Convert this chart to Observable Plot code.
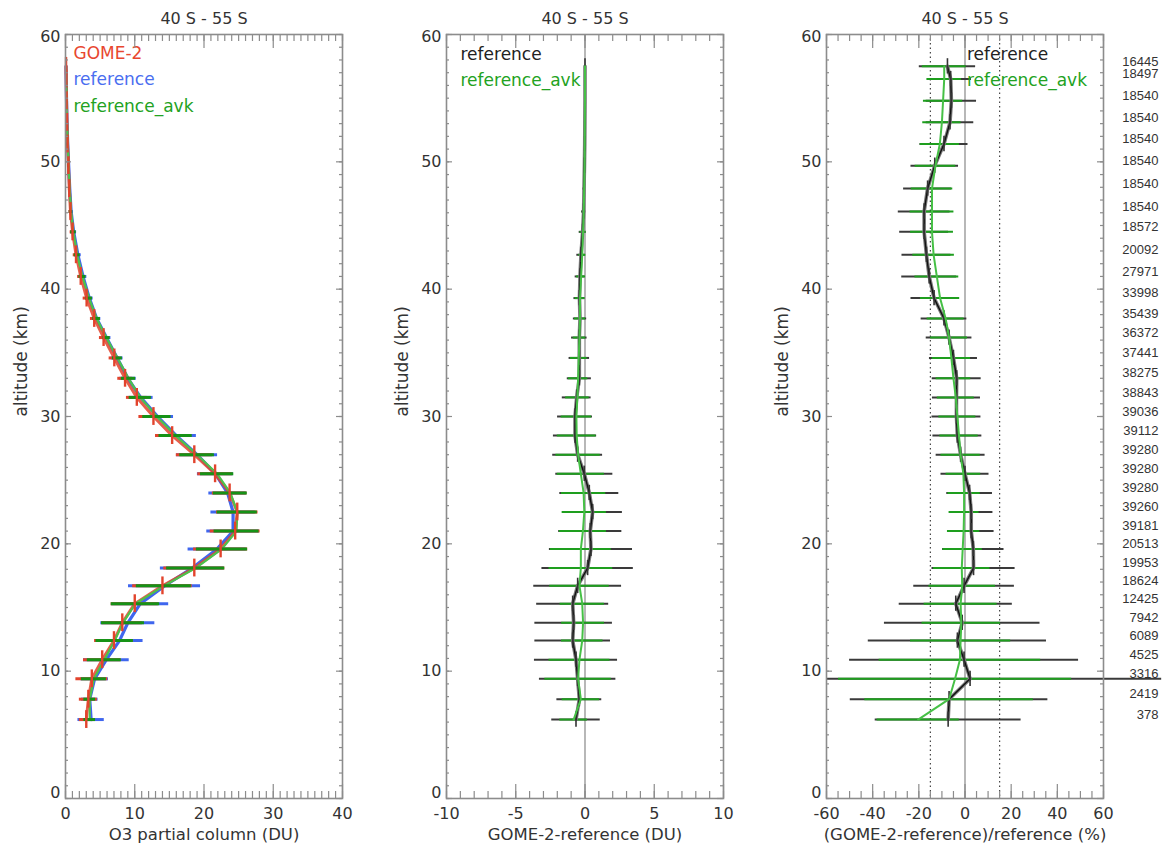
<!DOCTYPE html>
<html><head><meta charset="utf-8">
<script src="https://cdn.jsdelivr.net/npm/d3@7"></script>
<script src="https://cdn.jsdelivr.net/npm/@observablehq/plot@0.6"></script>
<style>
body{margin:0;background:#fff;}
#wrap{position:relative;width:1162px;height:847px;overflow:hidden;background:#fff;}
#wrap svg{position:absolute;top:0;overflow:visible;}
</style></head><body><div id="wrap"></div>
<script>
const panelTitle = "40 S - 55 S";
const altitudes = [57.5,56.5,54.8,53.1,51.4,49.7,47.9,46.1,44.5,42.7,41.0,39.3,37.7,36.2,34.6,33.0,31.5,30.0,28.5,27.0,25.5,24.0,22.5,21.0,19.6,18.1,16.7,15.3,13.8,12.4,10.9,9.4,7.8,6.2];
// panel 1: O3 partial column (DU)
const gome2 = [0.08,0.10,0.15,0.21,0.30,0.42,0.55,0.72,1.02,1.52,2.2,3.05,4.15,5.5,7.05,8.6,10.3,12.7,15.4,18.6,21.6,23.7,24.8,24.5,22.4,18.6,14.0,10.0,8.2,7.0,5.3,3.8,3.3,3.0];
const gome2Std = [0.03,0.04,0.05,0.06,0.08,0.10,0.13,0.22,0.35,0.40,0.45,0.50,0.55,0.60,0.75,1.05,1.5,2.1,2.4,2.6,2.5,2.5,3.0,3.6,3.9,4.4,4.3,3.4,2.9,2.8,2.7,2.3,1.3,1.0];
const reference = [0.08,0.10,0.15,0.22,0.32,0.46,0.61,0.81,1.18,1.79,2.53,3.44,4.50,5.91,7.46,9.01,10.85,13.3,16.0,19.0,21.65,23.4,24.2,24.2,21.9,18.3,14.3,10.8,9.0,7.8,5.9,4.2,3.5,3.7];
const referenceStd = [0.03,0.04,0.05,0.07,0.09,0.11,0.15,0.28,0.42,0.48,0.55,0.55,0.6,0.65,0.85,1.2,1.8,2.3,2.9,2.96,2.6,2.7,3.2,3.8,4.2,4.6,5.2,4.1,3.9,3.4,3.3,2.0,1.2,1.9];
const referenceAvk = [0.08,0.10,0.15,0.22,0.32,0.45,0.60,0.80,1.15,1.70,2.45,3.40,4.50,5.90,7.50,9.10,10.8,13.2,15.9,19.0,21.9,23.8,24.8,24.7,22.6,18.8,14.2,10.1,8.3,7.1,5.6,4.1,3.5,3.5];
const referenceAvkStd = [0.03,0.04,0.05,0.06,0.08,0.10,0.13,0.25,0.40,0.43,0.50,0.50,0.55,0.55,0.72,1.03,1.6,2.04,2.4,2.5,2.4,2.45,2.9,3.25,3.7,4.2,3.97,3.5,3.1,2.7,2.45,1.8,0.85,0.84];
// panel 2: GOME-2 - reference (DU)
const diffRef = [0.0,0.0,0.0,-0.01,-0.02,-0.04,-0.07,-0.1,-0.17,-0.29,-0.36,-0.4,-0.36,-0.41,-0.41,-0.41,-0.6,-0.72,-0.72,-0.53,-0.05,0.31,0.55,0.38,0.43,0.19,-0.53,-0.89,-0.82,-0.89,-0.65,-0.53,-0.41,-0.65];
const diffRefStd = [0.02,0.02,0.03,0.04,0.05,0.07,0.09,0.15,0.25,0.3,0.35,0.4,0.48,0.56,0.74,0.87,1.04,1.26,1.56,1.8,2.06,2.13,2.15,2.28,3.0,3.3,3.17,2.6,2.8,2.73,3.0,2.76,1.62,1.75];
const diffAvk = [0.0,0.0,0.0,-0.01,-0.02,-0.03,-0.06,-0.09,-0.14,-0.2,-0.28,-0.36,-0.36,-0.4,-0.45,-0.5,-0.55,-0.62,-0.6,-0.5,-0.3,-0.1,-0.05,-0.15,-0.3,-0.3,-0.4,-0.2,-0.14,-0.2,-0.4,-0.5,-0.3,-0.82];
const diffAvkStd = [0.02,0.02,0.03,0.03,0.04,0.05,0.06,0.12,0.22,0.26,0.32,0.35,0.4,0.45,0.6,0.7,0.85,1.1,1.4,1.6,1.7,1.6,1.6,1.7,2.2,2.3,2.15,1.6,1.55,1.5,2.2,2.4,1.35,1.0];
// panel 3: (GOME-2 - reference)/reference (%)
const pctRef = [-7.6,-6.2,-5.9,-6.5,-9.1,-13.1,-16.2,-17.7,-17.7,-16.7,-15.5,-13.4,-9.1,-6.9,-5.0,-3.6,-3.7,-3.7,-3.3,-1.9,0.0,2.0,2.7,2.7,3.6,3.7,-0.4,-4.0,-1.2,-3.3,-0.4,2.2,-6.9,-7.3];
const pctRefStd = [12.2,9.0,10.9,10.3,10.4,10.3,10.4,11.2,10.6,10.6,11.9,10.0,9.9,9.9,10.4,10.6,10.4,10.6,10.6,10.6,10.4,9.9,9.4,9.9,13.3,18.0,21.8,24.5,33.7,38.6,49.6,83.0,42.8,31.6];
const pctAvk = [-9.0,-9.0,-9.5,-10.0,-10.9,-12.8,-14.3,-14.3,-14.3,-13.6,-12.2,-10.8,-8.4,-6.9,-5.9,-5.0,-4.0,-3.3,-2.6,-1.9,-0.7,-0.4,-0.4,-0.6,-1.0,-1.4,-1.2,-1.9,-1.6,-1.9,-2.2,-4.3,-6.9,-20.3];
const pctAvkStd = [9.5,7.5,8.5,8.3,8.5,8.8,9.0,9.5,9.3,9.0,9.5,8.5,8.0,8.0,8.3,7.5,8.0,8.0,8.3,8.5,7.5,7.0,6.5,7.0,8.5,12.2,14.4,15.8,17.0,21.7,35.0,50.5,36.5,17.8];
const counts = [16445,18497,18540,18540,18540,18540,18540,18540,18572,20092,27971,33998,35439,36372,37441,38275,38843,39036,39112,39280,39280,39280,39260,39181,20513,19953,18624,12425,7942,6089,4525,3316,2419,378];

const yMajor = [0,10,20,30,40,50,60];
const yMinor = d3.range(0, 61, 1);
const p1XMajor = [0,10,20,30,40], p1XMinor = d3.range(0, 41, 1);
const p2XMajor = [-10,-5,0,5,10], p2XMinor = d3.range(-10, 11, 1);
const p3XMajor = [-60,-40,-20,0,20,40,60], p3XMinor = d3.range(-60, 61, 5);

const rows = (v, s) => altitudes.map((a, i) => ({alt: a, v: v[i], s: s[i], n: counts[i]}));

const FONT = "DejaVu Sans";
const H = 847, MT = 34, MB = 49, FH = H - MT - MB;
const AX = "#8c8c8c", TXT = "#333";

function panel({left, width, ml, mr, domain, xMajor, xMinor, xLabel, marks}) {
  const FW = width - ml - mr;
  const axisMarks = [
    Plot.ruleX(xMinor, {insetTop: FH - 7, stroke: AX, strokeWidth: 1.2}),
    Plot.ruleX(xMinor, {insetBottom: FH - 7, stroke: AX, strokeWidth: 1.2}),
    Plot.ruleX(xMajor, {insetTop: FH - 14, stroke: AX, strokeWidth: 1.2}),
    Plot.ruleX(xMajor, {insetBottom: FH - 14, stroke: AX, strokeWidth: 1.2}),
    Plot.ruleY(yMinor, {insetRight: FW - 3, stroke: AX, strokeWidth: 1.2}),
    Plot.ruleY(yMinor, {insetLeft: FW - 3, stroke: AX, strokeWidth: 1.2}),
    Plot.ruleY(yMajor, {insetRight: FW - 6, stroke: AX, strokeWidth: 1.2}),
    Plot.ruleY(yMajor, {insetLeft: FW - 6, stroke: AX, strokeWidth: 1.2}),
    Plot.frame({stroke: AX, strokeWidth: 1.6}),
    Plot.text(xMajor, {x: d => d, frameAnchor: "bottom", dy: 15, text: d => String(d), fontSize: 16, fill: TXT, lineAnchor: "middle"}),
    Plot.text([xLabel], {frameAnchor: "bottom", dy: 36, text: d => d, fontSize: 16.5, fill: TXT, lineAnchor: "middle"}),
    Plot.text(yMajor.filter(d => d > 0 && d < 60), {y: d => d, frameAnchor: "left", dx: -5, text: d => String(d), textAnchor: "end", fontSize: 16, fill: TXT, lineAnchor: "middle"}),
    Plot.text([0], {y: d => d, frameAnchor: "left", dx: -5, dy: -6, text: d => String(d), textAnchor: "end", fontSize: 16, fill: TXT, lineAnchor: "middle"}),
    Plot.text([60], {y: d => d, frameAnchor: "left", dx: -5, dy: 2, text: d => String(d), textAnchor: "end", fontSize: 16, fill: TXT, lineAnchor: "middle"}),
    Plot.text(["altitude (km)"], {frameAnchor: "left", dx: -44, rotate: -90, text: d => d, fontSize: 17, fill: TXT, lineAnchor: "middle"}),
    Plot.text([panelTitle], {frameAnchor: "top", dy: -16, text: d => d, fontSize: 16, fill: TXT, lineAnchor: "middle"})
  ];
  const svg = Plot.plot({
    width, height: H, marginLeft: ml, marginRight: mr, marginTop: MT, marginBottom: MB,
    x: {domain, axis: null},
    y: {domain: [0, 60], axis: null},
    style: {fontFamily: FONT, background: "transparent", overflow: "visible"},
    marks: [...marks, ...axisMarks]
  });
  svg.style.left = left + "px";
  document.getElementById("wrap").appendChild(svg);
}

// Panel 1
const gRows = rows(gome2, gome2Std), rRows = rows(reference, referenceStd), aRows = rows(referenceAvk, referenceAvkStd);
const RED = "#e2432c", BLUE = "#3f66ee", GREEN = "#169216", LGREEN = "#4cc24c";
panel({
  left: 0, width: 387, ml: 65, mr: 45, domain: [0, 40], xMajor: p1XMajor, xMinor: p1XMinor,
  xLabel: "O3 partial column (DU)",
  marks: [
    Plot.line(rRows, {x: "v", y: "alt", stroke: BLUE, strokeWidth: 3.2}),
    Plot.line(gRows, {x: "v", y: "alt", stroke: RED, strokeWidth: 3, strokeOpacity: 0.85}),
    Plot.line(aRows, {x: "v", y: "alt", stroke: LGREEN, strokeWidth: 2.2}),
    Plot.ruleY(rRows, {y: "alt", x1: d => d.v - d.s, x2: d => d.v + d.s, stroke: BLUE, strokeWidth: 3}),
    Plot.ruleY(gRows, {y: "alt", x1: d => d.v - d.s, x2: d => d.v + d.s, stroke: RED, strokeWidth: 3}),
    Plot.ruleY(aRows, {y: "alt", x1: d => d.v - d.s, x2: d => d.v + d.s, stroke: GREEN, strokeWidth: 3}),
    Plot.ruleX(gRows, {x: "v", y1: d => d.alt - 0.7, y2: d => d.alt + 0.7, stroke: RED, strokeWidth: 2.4}),
    Plot.text(["GOME-2"], {frameAnchor: "top-left", dx: 8, dy: 19, text: d => d, fill: "#e8472f", fontSize: 17, lineAnchor: "middle", textAnchor: "start"}),
    Plot.text(["reference"], {frameAnchor: "top-left", dx: 8, dy: 45, text: d => d, fill: "#4a6ef0", fontSize: 17, lineAnchor: "middle", textAnchor: "start"}),
    Plot.text(["reference_avk"], {frameAnchor: "top-left", dx: 8, dy: 72, text: d => d, fill: "#22a222", fontSize: 17, lineAnchor: "middle", textAnchor: "start"})
  ]
});

// Panel 2 & 3 shared builder
function diffMarks(refRows, avkRows, clampMin) {
  return [
    Plot.ruleX([0], {stroke: "#888", strokeWidth: 1.2}),
    Plot.ruleY(refRows, {y: "alt", x1: d => Math.max(d.v - d.s, clampMin), x2: d => d.v + d.s, stroke: "#3a3a3a", strokeWidth: 2}),
    Plot.ruleY(avkRows, {y: "alt", x1: d => Math.max(d.v - d.s, clampMin), x2: d => d.v + d.s, stroke: "#1e9e1e", strokeWidth: 2}),
    Plot.line(refRows, {x: "v", y: "alt", stroke: "#777", strokeWidth: 3.6}),
    Plot.line(refRows, {x: "v", y: "alt", stroke: "#111", strokeWidth: 1.4}),
    Plot.ruleX(refRows, {x: "v", y1: d => d.alt - 0.6, y2: d => d.alt + 0.6, stroke: "#333", strokeWidth: 1.6}),
    Plot.line(avkRows, {x: "v", y: "alt", stroke: "#46c046", strokeWidth: 2})
  ];
}

panel({
  left: 380, width: 388, ml: 66, mr: 45, domain: [-10, 10], xMajor: p2XMajor, xMinor: p2XMinor,
  xLabel: "GOME-2-reference (DU)",
  marks: [
    ...diffMarks(rows(diffRef, diffRefStd), rows(diffAvk, diffAvkStd), -10),
    Plot.text(["reference"], {frameAnchor: "top-left", dx: 14, dy: 20, text: d => d, fill: "#222", fontSize: 17, lineAnchor: "middle", textAnchor: "start"}),
    Plot.text(["reference_avk"], {frameAnchor: "top-left", dx: 14, dy: 46, text: d => d, fill: "#22a222", fontSize: 17, lineAnchor: "middle", textAnchor: "start"})
  ]
});

const p3Ref = rows(pctRef, pctRefStd);
panel({
  left: 760, width: 402, ml: 66, mr: 59, domain: [-60, 60], xMajor: p3XMajor, xMinor: p3XMinor,
  xLabel: "(GOME-2-reference)/reference (%)",
  marks: [
    Plot.ruleX([-15, 15], {stroke: "#444", strokeWidth: 1.2, strokeDasharray: "1.5,3"}),
    ...diffMarks(p3Ref, rows(pctAvk, pctAvkStd), -60),
    Plot.text(["reference"], {x: d => 0, frameAnchor: "top", dx: 2, dy: 20, text: d => d, fill: "#222", fontSize: 17, lineAnchor: "middle", textAnchor: "start"}),
    Plot.text(["reference_avk"], {x: d => 0, frameAnchor: "top", dx: 2, dy: 46, text: d => d, fill: "#22a222", fontSize: 17, lineAnchor: "middle", textAnchor: "start"}),
    Plot.text(p3Ref, {y: "alt", frameAnchor: "right", dx: 55, dy: -5, text: d => String(d.n), textAnchor: "end", fontSize: 13, fontFamily: "Liberation Sans", fill: TXT, lineAnchor: "middle"})
  ]
});
</script></body></html>
